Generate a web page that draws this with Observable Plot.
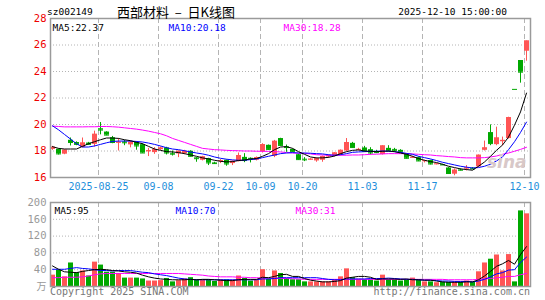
<!DOCTYPE html>
<html><head><meta charset="utf-8">
<script src="https://cdn.jsdelivr.net/npm/d3@7"></script>
<script src="https://cdn.jsdelivr.net/npm/@observablehq/plot@0.6"></script>
<style>
body{margin:0;background:#fff;}
#wrap{position:relative;width:545px;height:300px;overflow:hidden;background:#fff;}
.t{position:absolute;white-space:pre;font-family:"DejaVu Sans Mono",monospace;line-height:12px;height:12px;}
#topc,#botc{position:absolute;left:0;}
#topc{top:0;}#botc{top:190px;}
</style></head><body>
<div id="wrap">
  <div id="topc"></div>
  <div id="botc"></div>
  <div class="t" id="code" style="left:47px;top:6px;font-size:9.5px;color:#000;"></div>
  <div class="t" id="name" style="left:117px;top:4px;font-family:'Noto Sans CJK SC',sans-serif;font-size:13px;line-height:16px;height:16px;color:#000;"></div>
  <div class="t" id="time" style="right:38px;top:6px;font-size:9.5px;color:#000;"></div>
  <div class="t" id="copy" style="left:50px;top:286px;font-size:10px;color:#777;"></div>
  <div class="t" id="url" style="right:15px;top:286px;font-size:10px;color:#777;"></div>
</div>
<script>
// ---- header texts ----
const stockCode = "sz002149";
const stockTitle = "西部材料 \u2013 日K线图";
const timeStamp = "2025-12-10 15:00:00";
const copyright = "Copyright 2025 SINA.COM";
const siteUrl = "http://finance.sina.com.cn";

// ---- dates (trading days) ----
const dates = [
"2025-08-13","2025-08-14","2025-08-15","2025-08-18","2025-08-19","2025-08-20","2025-08-21","2025-08-22","2025-08-25","2025-08-26",
"2025-08-27","2025-08-28","2025-08-29","2025-09-01","2025-09-02","2025-09-03","2025-09-04","2025-09-05","2025-09-08","2025-09-09",
"2025-09-10","2025-09-11","2025-09-12","2025-09-15","2025-09-16","2025-09-17","2025-09-18","2025-09-19","2025-09-22","2025-09-23",
"2025-09-24","2025-09-25","2025-09-26","2025-09-29","2025-09-30","2025-10-09","2025-10-10","2025-10-13","2025-10-14","2025-10-15",
"2025-10-16","2025-10-17","2025-10-20","2025-10-21","2025-10-22","2025-10-23","2025-10-24","2025-10-27","2025-10-28","2025-10-29",
"2025-10-30","2025-10-31","2025-11-03","2025-11-04","2025-11-05","2025-11-06","2025-11-07","2025-11-10","2025-11-11","2025-11-12",
"2025-11-13","2025-11-14","2025-11-17","2025-11-18","2025-11-19","2025-11-20","2025-11-21","2025-11-24","2025-11-25","2025-11-26",
"2025-11-27","2025-11-28","2025-12-01","2025-12-02","2025-12-03","2025-12-04","2025-12-05","2025-12-08","2025-12-09","2025-12-10"];

const tickDates  = ["2025-08-25","2025-09-08","2025-09-22","2025-10-09","2025-10-20","2025-11-03","2025-11-17","2025-12-10"];
const tickLabels = ["2025-08-25","09-08","09-22","10-09","10-20","11-03","11-17","12-10"];

// ---- price ----
const open = [18.12,18.13,17.76,18.81,18.64,18.26,18.60,18.50,19.68,19.43, 19.00,18.60,18.68,18.46,18.64,18.48,17.95,17.88,18.10,18.23,
 17.82,17.78,17.80,17.98,17.48,17.30,17.43,17.10,17.20,17.30, 17.05,17.20,17.52,17.45,17.30,17.93,18.43,17.60,18.94,18.32,
 18.12,17.72,17.38,17.33,17.25,17.30,17.55,17.62,17.73,18.00, 18.58,18.10,18.23,18.10,17.95,17.73,18.20,18.12,18.05,17.78,
 17.48,17.50,17.22,17.28,17.00,16.98,16.72,16.25,16.58,16.65, 16.70,16.80,18.05,19.39,18.48,18.70,18.94,22.65,24.83,25.53];
const high = [18.35,18.15,18.08,18.98,18.69,18.98,18.65,19.50,20.15,19.45, 19.10,18.94,18.80,18.74,18.70,18.55,18.20,18.25,18.30,18.28,
 18.00,18.00,18.05,18.02,17.50,17.60,17.45,17.15,17.35,17.32, 17.25,17.85,17.80,17.48,17.55,18.55,18.45,18.80,18.96,18.45,
 18.15,17.75,17.50,17.42,17.48,17.62,17.70,17.88,18.08,18.94, 18.65,18.20,18.35,18.25,18.05,18.40,18.40,18.20,18.10,17.80,
 17.60,17.55,17.30,17.30,17.05,17.00,16.75,16.65,16.65,16.90, 16.75,17.70,18.75,19.97,19.80,19.05,20.55,22.65,24.83,26.30];
const low = [18.05,17.70,17.72,18.38,18.40,18.24,18.42,18.30,19.22,19.15, 18.55,18.00,18.40,18.24,18.06,17.82,17.58,17.75,18.05,17.70,
 17.62,17.50,17.72,17.55,17.15,17.25,16.90,16.98,17.05,16.85, 16.90,17.18,17.12,17.10,17.25,17.85,18.05,17.50,18.36,17.90,
 17.90,17.30,17.20,17.30,17.15,17.15,17.45,17.55,17.65,17.95, 18.22,18.00,17.95,17.70,17.80,17.70,17.98,17.90,17.85,17.40,
 17.45,17.20,17.10,16.95,16.95,16.92,16.25,16.13,16.50,16.50, 16.60,16.75,18.00,18.40,18.40,18.38,18.90,22.65,23.12,24.78];
const close = [18.28,17.78,18.06,18.64,18.50,18.60,18.50,19.26,19.58,19.20, 18.64,18.66,18.62,18.66,18.38,17.85,18.02,18.10,18.22,17.85,
 17.76,17.98,17.97,17.60,17.42,17.55,17.10,17.05,17.28,17.02, 17.22,17.66,17.28,17.42,17.50,18.48,18.12,18.73,18.42,18.26,
 17.95,17.35,17.33,17.38,17.43,17.58,17.65,17.85,18.05,18.64, 18.26,18.12,17.98,17.85,17.88,18.38,18.00,18.05,17.90,17.45,
 17.52,17.25,17.26,17.02,17.03,16.95,16.30,16.55,16.55,16.72, 16.65,17.68,18.23,18.56,18.98,18.80,20.52,22.65,23.95,26.30];

// price moving averages
const ma5 = [18.33,18.20,18.15,18.15,18.15,18.35,18.55,18.70,18.85,18.98, 18.98,18.95,18.85,18.78,18.65,18.55,18.35,18.15,18.05,17.95,
 17.93,17.88,17.80,17.70,17.60,17.48,17.40,17.30,17.22,17.18, 17.20,17.28,17.32,17.40,17.43,17.60,17.80,18.10,18.30,18.33,
 18.20,17.95,17.75,17.55,17.48,17.48,17.52,17.62,17.80,17.95, 18.05,18.08,18.00,17.98,17.95,17.98,18.00,17.95,17.85,17.75,
 17.60,17.43,17.30,17.20,17.13,17.00,16.85,16.75,16.65,16.60, 16.55,16.85,17.17,17.60,18.05,18.45,19.05,19.95,20.95,22.37];
const ma10 = [19.90,19.60,19.25,18.90,18.55,18.30,18.30,18.38,18.50,18.62, 18.72,18.75,18.75,18.75,18.72,18.68,18.60,18.50,18.38,18.25,
 18.15,18.10,18.02,17.93,17.85,17.78,17.68,17.55,17.45,17.38, 17.33,17.30,17.30,17.35,17.40,17.50,17.60,17.70,17.80,17.85,
 17.88,17.85,17.85,17.83,17.80,17.78,17.72,17.68,17.72,17.80, 17.90,17.93,17.95,17.97,17.98,18.00,17.98,17.95,17.90,17.82,
 17.75,17.60,17.50,17.40,17.28,17.15,17.05,16.95,16.85,16.78, 16.72,16.75,16.85,17.00,17.25,17.55,18.10,18.70,19.40,20.18];
const ma30 = [19.88,19.85,19.82,19.82,19.82,19.82,19.83,19.83,19.85,19.85, 19.83,19.80,19.75,19.70,19.65,19.58,19.50,19.40,19.30,19.15,
 18.95,18.80,18.65,18.50,18.35,18.20,18.15,18.10,18.08,18.05, 18.03,18.02,18.00,18.00,17.98,17.98,17.97,17.95,17.93,17.88,
 17.85,17.83,17.82,17.78,17.72,17.70,17.68,17.68,17.68,17.68, 17.70,17.70,17.72,17.75,17.76,17.78,17.80,17.80,17.80,17.80,
 17.78,17.75,17.72,17.70,17.65,17.62,17.58,17.55,17.50,17.48, 17.48,17.48,17.50,17.55,17.62,17.75,17.85,17.98,18.12,18.28];

// ---- volume (万手) ----
const volume = [27,39,23,56,33,37,25,58,51,34, 34,31,20,20,20,18,13,13,14,19, 11,14,18,21,16,16,16,12,16,16,
 15,25,19,13,15,40,17,37,31,19, 16,16,11,11,11,11,11,16,23,42, 21,17,16,16,13,27,16,16,13,16,
 20,16,11,11,9,10,10,10,10,13, 10,35,56,65,75,37,76,11,180,173];
const vma5 = [49,41,35,34,33,36,38,40,41,40, 38,37,35,34,32,27,23,20,18,17, 16,16,16,17,16,17,17,16,15,14,
 14,16,17,17,17,22,21,24,28,29, 24,24,19,15,13,11,11,12,14,20, 22,24,24,22,17,18,18,18,17,18,
 16,16,15,15,13,11,10,10,10,11, 11,16,25,36,48,54,62,53,76,95];
const vma10 = [41,41,41,43,45,43,42,40,38,38, 37,38,38,38,36,34,33,30,28,26, 23,20,18,17,16,16,16,16,16,16,
 16,16,16,16,16,18,18,19,21,21, 21,21,21,21,21,19,17,16,16,18, 18,18,18,19,19,19,20,19,18,17,
 17,16,15,15,14,13,13,12,12,12, 11,13,17,23,30,33,39,40,57,70];
const vma30 = [21,21,22,22,22,23,25,28,30,31, 31,31,31,31,31,31,31,31,31,31, 31,31,30,29,28,27,25,24,23,23,
 23,22,22,21,21,20,20,19.5,19,19, 18.5,18,17,17,17,17,17,17,17,17, 17,17,17,17,17,17,17,17,17,17,
 17,17,17,17,17,17,16,16,16,16, 16,17,18,19,21,22,24,24,28,31];

const priceMaText = ["MA5:22.37","MA10:20.18","MA30:18.28"];
const volMaText = ["MA5:95","MA10:70","MA30:31"];
const priceTicks = [16,18,20,22,24,26,28];
const volTicks = [40,80,120,160,200];
const volUnit = "万";

// ---- build ----
const UP = "#ff5555", DOWN = "#00a800";
const rows = dates.map((d,i)=>({i, d, o:open[i], h:high[i], l:low[i], c:close[i], v:volume[i],
  m5:ma5[i], m10:ma10[i], m30:ma30[i], vm5:vma5[i], vm10:vma10[i], vm30:vma30[i],
  col: close[i] > open[i] ? UP : DOWN}));
const tickIdx = tickDates.map(t => dates.indexOf(t));
const labelOf = new Map(tickIdx.map((k,j)=>[k, tickLabels[j]]));
const cx = d => d.i + 2/6;
const gridC = "#b4b4b4", frameC = "#9a9a9a";
const mono = "DejaVu Sans Mono";

const topChart = Plot.plot({
  width: 545, height: 195, marginLeft: 50, marginRight: 15, marginTop: 18, marginBottom: 18,
  style: {fontFamily: mono, background: "transparent"},
  x: {domain: [0, 80], axis: null},
  y: {domain: [16, 28], axis: null},
  color: {type: "identity"},
  marks: [
    Plot.ruleY(priceTicks.slice(1, -1), {stroke: gridC, strokeDasharray: "1,2"}),
    Plot.ruleX(tickIdx, {stroke: gridC, strokeDasharray: "5,3"}),
    Plot.ruleX(rows, {x: cx, y1: "l", y2: "h", stroke: "col"}),
    Plot.rect(rows, {x1: "i", x2: d => d.i + 5/6, y1: d => Math.min(d.o, d.c), y2: d => Math.max(d.o, d.c), fill: "col"}),
    Plot.ruleY(rows, {x1: "i", x2: d => d.i + 5/6, y: "c", stroke: "col"}),
    Plot.line(rows, {x: cx, y: "m30", stroke: "#ff00ff", strokeWidth: 1}),
    Plot.line(rows, {x: cx, y: "m10", stroke: "#0000ff", strokeWidth: 1}),
    Plot.line(rows, {x: cx, y: "m5", stroke: "#000000", strokeWidth: 1}),
    Plot.text(["sina"], {frameAnchor: "bottom-right", dx: -4, dy: -10, fontSize: 17, fontWeight: "bold", fontStyle: "italic", fill: "#d8c8c8", fontFamily: "DejaVu Sans"}),
    Plot.frame({stroke: frameC, strokeWidth: 1.5}),
    Plot.text(priceTicks, {x: 0, y: d => d, text: d => String(d), dx: -4, textAnchor: "end", fill: "#ee0000", fontSize: 10.5}),
    Plot.text(tickIdx, {x: d => d, y: 16, text: d => labelOf.get(d), dy: 9.5, fill: "#1f8fdb", fontSize: 10}),
    Plot.text([priceMaText[0]], {frameAnchor: "top-left", dx: 2, dy: 6, textAnchor: "start", fill: "#000", fontSize: 9.5}),
    Plot.text([priceMaText[1]], {frameAnchor: "top-left", dx: 118, dy: 6, textAnchor: "start", fill: "#0000ff", fontSize: 9.5}),
    Plot.text([priceMaText[2]], {frameAnchor: "top-left", dx: 233, dy: 6, textAnchor: "start", fill: "#ff00ff", fontSize: 9.5})
  ]
});
document.getElementById("topc").appendChild(topChart);

const botChart = Plot.plot({
  width: 545, height: 110, marginLeft: 50, marginRight: 15, marginTop: 12, marginBottom: 14,
  style: {fontFamily: mono, background: "transparent"},
  x: {domain: [0, 80], axis: null},
  y: {domain: [0, 200], axis: null},
  color: {type: "identity"},
  marks: [
    Plot.ruleY(volTicks.slice(0, -1), {stroke: gridC, strokeDasharray: "1,2"}),
    Plot.ruleX(tickIdx, {stroke: gridC, strokeDasharray: "5,3"}),
    Plot.rect(rows, {x1: "i", x2: d => d.i + 5/6, y1: 0, y2: "v", fill: "col"}),
    Plot.line(rows, {x: cx, y: "vm30", stroke: "#ff00ff", strokeWidth: 1}),
    Plot.line(rows, {x: cx, y: "vm10", stroke: "#0000ff", strokeWidth: 1}),
    Plot.line(rows, {x: cx, y: "vm5", stroke: "#000000", strokeWidth: 1}),
    Plot.frame({stroke: frameC, strokeWidth: 1.5}),
    Plot.text(volTicks, {x: 0, y: d => d, text: d => String(d), dx: -4, textAnchor: "end", fill: "#999", fontSize: 10.5}),
    Plot.text([volUnit], {x: 0, y: 0, dx: -4, textAnchor: "end", fill: "#999", fontSize: 10, fontFamily: "Noto Sans CJK SC"}),
    Plot.text([volMaText[0]], {frameAnchor: "top-left", dx: 4, dy: 4.5, textAnchor: "start", fill: "#000", fontSize: 9.5}),
    Plot.text([volMaText[1]], {frameAnchor: "top-left", dx: 125, dy: 4.5, textAnchor: "start", fill: "#0000ff", fontSize: 9.5}),
    Plot.text([volMaText[2]], {frameAnchor: "top-left", dx: 245, dy: 4.5, textAnchor: "start", fill: "#ff00ff", fontSize: 9.5})
  ]
});
document.getElementById("botc").appendChild(botChart);

document.getElementById("code").textContent = stockCode;
document.getElementById("name").textContent = stockTitle.replace(" \u2013 ", "\u00a0\u00a0\u2013\u00a0\u00a0");
document.getElementById("time").textContent = timeStamp;
document.getElementById("copy").textContent = copyright;
document.getElementById("url").textContent = siteUrl;
</script>
</body></html>
